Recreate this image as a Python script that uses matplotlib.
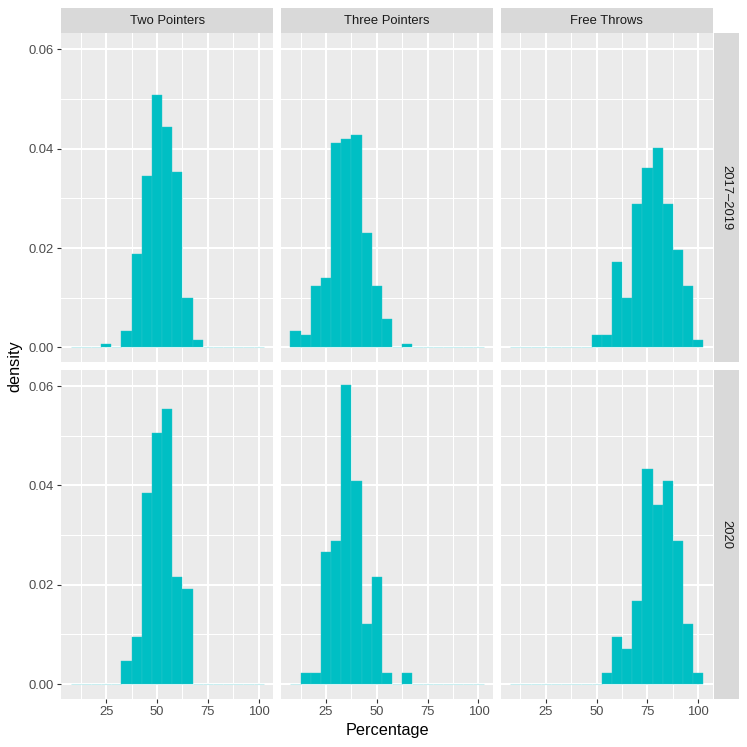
import matplotlib
matplotlib.use("Agg")
import matplotlib.pyplot as plt
import numpy as np

plt.rcParams['font.family'] = ['Liberation Sans', 'DejaVu Sans']

# ---------------- data ----------------
bin_centers = [10, 15, 20, 25, 30, 35, 40, 45, 50, 55, 60, 65, 70, 75, 80, 85, 90, 95, 100]
bin_width = 5
shot_types = ["Two Pointers", "Three Pointers", "Free Throws"]
periods = ["2017\u20132019", "2020"]

two_1719 = [0, 0, 0, 0.0007, 0, 0.0032, 0.0189, 0.0345, 0.0509, 0.0444, 0.0353, 0.0099, 0.0015, 0, 0, 0, 0, 0, 0]
three_1719 = [0.0032, 0.0024, 0.0123, 0.0139, 0.0411, 0.0419, 0.0427, 0.0230, 0.0123, 0.0057, 0, 0.0007, 0, 0, 0, 0, 0, 0, 0]
ft_1719 = [0, 0, 0, 0, 0, 0, 0, 0, 0.0024, 0.0024, 0.01725, 0.0099, 0.0288, 0.0362, 0.0402, 0.0288, 0.0197, 0.0123, 0.0015]

two_2020 = [0, 0, 0, 0, 0, 0.0047, 0.0095, 0.0385, 0.0506, 0.0554, 0.0216, 0.0192, 0, 0, 0, 0, 0, 0, 0]
three_2020 = [0, 0.0023, 0.0023, 0.0265, 0.0288, 0.0603, 0.0409, 0.0120, 0.0216, 0.0023, 0, 0.0023, 0, 0, 0, 0, 0, 0, 0]
ft_2020 = [0, 0, 0, 0, 0, 0, 0, 0, 0, 0.0023, 0.0095, 0.0071, 0.0168, 0.0434, 0.0361, 0.0409, 0.0288, 0.0120, 0.0023]

x_ticks = [25, 50, 75, 100]
x_tick_labels = ["25", "50", "75", "100"]
x_minor = [12.5, 37.5, 62.5, 87.5]
y_ticks = [0.0, 0.02, 0.04, 0.06]
y_tick_labels = ["0.00", "0.02", "0.04", "0.06"]
y_minor = [0.01, 0.03, 0.05]

grid_data = [[two_1719, three_1719, ft_1719],
             [two_2020, three_2020, ft_2020]]

# ---------------- styling / layout ----------------
W = H = 747
DPI = 100
fig = plt.figure(figsize=(W / DPI, H / DPI), dpi=DPI)
fig.patch.set_facecolor("white")

fill = "#00BFC4"
panel_bg = "#EBEBEB"
strip_bg = "#D9D9D9"

px_left = [61, 280.8, 500.6]
pw = 212.4
px_top = [33, 369.7]
ph = 329.3

edges = np.array(bin_centers) - bin_width / 2.0
xmin, xmax = edges[0], edges[-1] + bin_width
xr = xmax - xmin
xlim = (xmin - 0.05 * xr, xmax + 0.05 * xr)
ymax_data = max(max(max(r) for r in row) for row in grid_data)
ylim = (-0.05 * ymax_data, ymax_data * 1.05)

def to_fig(x, y, w, h):
    return [x / W, 1 - (y + h) / H, w / W, h / H]

tick_fs = 9.4
for r in range(2):
    for c in range(3):
        ax = fig.add_axes(to_fig(px_left[c], px_top[r], pw, ph))
        ax.set_facecolor(panel_bg)
        for s in ax.spines.values():
            s.set_visible(False)
        ax.set_xlim(*xlim)
        ax.set_ylim(*ylim)
        ax.set_xticks(x_ticks)
        ax.set_xticks(x_minor, minor=True)
        ax.set_yticks(y_ticks)
        ax.set_yticks(y_minor, minor=True)
        ax.grid(which="major", color="white", linewidth=1.5, zorder=0)
        ax.grid(which="minor", color="white", linewidth=0.75, zorder=0)
        ax.set_axisbelow(True)

        vals = np.array(grid_data[r][c])
        centers = np.array(bin_centers)
        zero = vals == 0
        ax.bar(centers[zero], vals[zero], width=bin_width, color=fill,
               edgecolor="#C8EEF0", linewidth=0.8, zorder=2)
        ax.bar(centers[~zero], vals[~zero], width=bin_width, color=fill,
               edgecolor="#2CC6CA", linewidth=0.3, zorder=3)

        ax.tick_params(which="minor", length=0)
        ax.tick_params(which="major", length=2.9, width=0.8, color="#333333",
                       labelsize=tick_fs, labelcolor="#4D4D4D", pad=2.4)
        if r == 1:
            ax.set_xticklabels(x_tick_labels)
        else:
            ax.tick_params(axis="x", which="major", length=0, labelbottom=False)
        if c == 0:
            ax.set_yticklabels(y_tick_labels)
        else:
            ax.tick_params(axis="y", which="major", length=0, labelleft=False)

# top strips
for c in range(3):
    sax = fig.add_axes(to_fig(px_left[c], 8, pw, 25))
    sax.set_facecolor(strip_bg)
    sax.set_xticks([]); sax.set_yticks([])
    for s in sax.spines.values():
        s.set_visible(False)
    sax.text(0.5, 0.5, shot_types[c], ha="center", va="center",
             fontsize=tick_fs, color="#1A1A1A", transform=sax.transAxes)

# right strips
for r in range(2):
    sax = fig.add_axes(to_fig(713.5, px_top[r], 25.5, ph))
    sax.set_facecolor(strip_bg)
    sax.set_xticks([]); sax.set_yticks([])
    for s in sax.spines.values():
        s.set_visible(False)
    sax.text(0.5, 0.5, periods[r], ha="center", va="center", rotation=-90,
             fontsize=tick_fs, color="#1A1A1A", transform=sax.transAxes)

# axis titles
fig.text((px_left[0] + px_left[2] + pw) / 2 / W, 1 - 731 / H, "Percentage",
         ha="center", va="center", fontsize=11.7, color="black")
fig.text(15 / W, 1 - (px_top[0] + px_top[1] + ph) / 2 / H, "density",
         ha="center", va="center", rotation=90, fontsize=11.7, color="black")

fig.savefig("out.png", dpi=DPI, facecolor="white")
